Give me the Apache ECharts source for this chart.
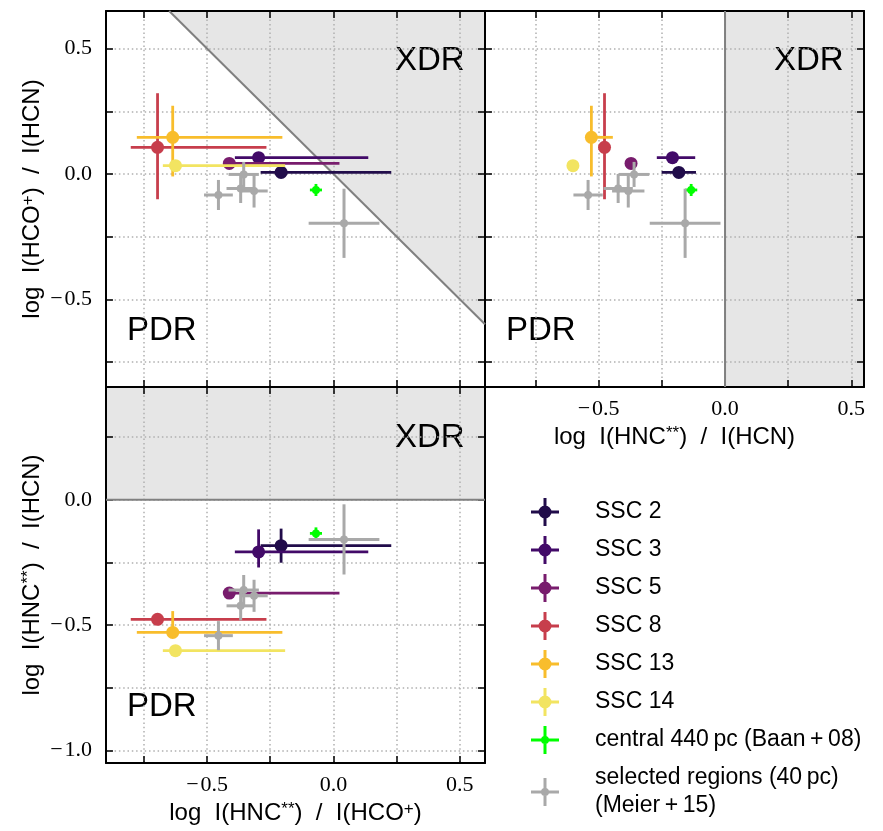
<!DOCTYPE html>
<html>
<head>
<meta charset="utf-8">
<script src="https://cdn.jsdelivr.net/npm/echarts@6/dist/echarts.min.js"></script>
<style>
  html, body { margin: 0; padding: 0; background: #fff; }
  #chart { width: 883px; height: 831px; }
</style>
</head>
<body>
<div id="chart"></div>
<script>
// ---- data: every ratio is [value, lower error, upper error] ----
const sscNames = ['SSC 2', 'SSC 3', 'SSC 5', 'SSC 8', 'SSC 13', 'SSC 14'];
const sscColors = ['#210c4a', '#420a68', '#781c6d', '#c73e4c', '#f8bd2c', '#f2e461'];
// log I(HNC**) / I(HCO+)
const sscHncHco = [
  [-0.207, 0.081, 0.436], [-0.296, 0.094, 0.434], [-0.412, 0.020, 0.436],
  [-0.696, 0.106, 0.431], [-0.636, 0.142, 0.434], [-0.625, 0.050, 0.434]
];
// log I(HCO+) / I(HCN)
const sscHcoHcn = [
  [0.006, 0.015, 0.015], [0.065, 0.015, 0.015], [0.042, 0.015, 0.015],
  [0.106, 0.207, 0.216], [0.146, 0.156, 0.126], [0.033, 0.015, 0.015]
];
// log I(HNC**) / I(HCN)
const sscHncHcn = [
  [-0.183, 0.068, 0.068], [-0.208, 0.062, 0.090], [-0.372, 0.015, 0.015],
  [-0.477, 0.015, 0.015], [-0.529, 0.015, 0.085], [-0.602, 0.015, 0.015]
];

const baanName = 'central 440\u2009pc (Baan\u2009+\u200908)';
const baanHncHco = [[-0.069, 0.024, 0.024]];
const baanHcoHcn = [[-0.064, 0.024, 0.024]];
const baanHncHcn = [[-0.134, 0.024, 0.024]];

const meierName = 'selected regions (40\u2009pc)\n(Meier\u2009+\u200915)';
const meierHncHco = [
  [-0.455, 0.057, 0.057], [-0.355, 0.060, 0.060], [-0.367, 0.056, 0.056],
  [-0.314, 0.054, 0.054], [0.042, 0.140, 0.140]
];
const meierHcoHcn = [
  [-0.084, 0.060, 0.060], [-0.002, 0.050, 0.050], [-0.058, 0.058, 0.058],
  [-0.068, 0.066, 0.066], [-0.197, 0.138, 0.138]
];
const meierHncHcn = [
  [-0.542, 0.058, 0.058], [-0.360, 0.060, 0.060], [-0.423, 0.058, 0.058],
  [-0.383, 0.064, 0.064], [-0.158, 0.140, 0.140]
];

// XDR regions (shaded) and their boundaries
const xdrPolyTL = [[-0.65, 0.65], [0.6, 0.65], [0.6, -0.6]];
const xdrLineTL = [[-0.65, 0.65], [0.6, -0.6]];
const xdrPolyTR = [[0, 0.65], [0.55, 0.65], [0.55, -0.85], [0, -0.85]];
const xdrLineTR = [[0, 0.65], [0, -0.85]];
const xdrPolyBL = [[-0.9, 0.45], [0.6, 0.45], [0.6, 0], [-0.9, 0]];
const xdrLineBL = [[-0.9, 0], [0.6, 0]];

const gridTicks = [-0.75, -0.5, -0.25, 0, 0.25, 0.5];
const gridTicksBL = [-1, -0.75, -0.5, -0.25, 0, 0.25];
const labelTicks = [-0.5, 0, 0.5];
const labelTicksBL = [-1, -0.5, 0];

const SANS = 'Liberation Sans';
const SERIF = 'Liberation Serif';

const fmt = v => (v < 0 ? '\u2212\u200a' : '') + Math.abs(v).toFixed(1);
const nameRich = {
  s: { fontSize: 17, fontFamily: SANS, verticalAlign: 'top', lineHeight: 24 },
  p: { fontSize: 17, fontFamily: SANS, verticalAlign: 'top', lineHeight: 24 }
};

const panels = [
  { left: 106, top: 11, xr: [-0.9, 0.6], yr: [-0.85, 0.65], yTicks: gridTicks,
    xLab: null, yLab: labelTicks, xName: '', yName: 'log  I(HCO{p|+})  /  I(HCN)',
    xs: [sscHncHco, baanHncHco, meierHncHco], ys: [sscHcoHcn, baanHcoHcn, meierHcoHcn],
    poly: xdrPolyTL, line: xdrLineTL },
  { left: 485, top: 11, xr: [-0.95, 0.55], yr: [-0.85, 0.65], yTicks: gridTicks,
    xLab: labelTicks, yLab: null, xName: 'log  I(HNC{s|**})  /  I(HCN)', yName: '',
    xs: [sscHncHcn, baanHncHcn, meierHncHcn], ys: [sscHcoHcn, baanHcoHcn, meierHcoHcn],
    poly: xdrPolyTR, line: xdrLineTR },
  { left: 106, top: 387, xr: [-0.9, 0.6], yr: [-1.05, 0.45], yTicks: gridTicksBL,
    xLab: labelTicks, yLab: labelTicksBL, xName: 'log  I(HNC{s|**})  /  I(HCO{p|+})',
    yName: 'log  I(HNC{s|**})  /  I(HCN)',
    xs: [sscHncHco, baanHncHco, meierHncHco], ys: [sscHncHcn, baanHncHcn, meierHncHcn],
    poly: xdrPolyBL, line: xdrLineBL }
];

const grids = [], xAxes = [], yAxes = [], series = [];

function axis(pos, range, ticks, labels, name, gi, main) {
  return {
    type: 'value', gridIndex: gi, position: pos, min: range[0], max: range[1],
    axisLine: { show: true, onZero: false, lineStyle: { color: '#000', width: 2 } },
    axisTick: { show: true, inside: true, length: 7, customValues: ticks,
      lineStyle: { color: '#000', width: 1.5 } },
    axisLabel: labels ? {
      show: true, customValues: labels, formatter: fmt, fontSize: 22, fontFamily: SERIF,
      color: '#000', margin: (pos === 'bottom') ? 11 : 14
    } : { show: false },
    splitLine: { show: main, lineStyle: { color: '#b0b0b0', width: 1.5, type: [1.5, 2.8] } },
    name: name || '', nameLocation: 'middle',
    nameGap: (pos === 'bottom') ? 38 : 62,
    nameTextStyle: { fontSize: 24, fontFamily: SANS, color: '#000', rich: nameRich }
  };
}

function errRender(r, lw) {
  return function (params, api) {
    const x = api.value(0), y = api.value(1);
    const c = api.coord([x, y]);
    const xl = api.coord([x - api.value(2), y]), xh = api.coord([x + api.value(3), y]);
    const yl = api.coord([x, y - api.value(4)]), yh = api.coord([x, y + api.value(5)]);
    const color = api.visual('color');
    return {
      type: 'group',
      children: [
        { type: 'line', shape: { x1: xl[0], y1: c[1], x2: xh[0], y2: c[1] },
          style: { stroke: color, lineWidth: lw } },
        { type: 'line', shape: { x1: c[0], y1: yl[1], x2: c[0], y2: yh[1] },
          style: { stroke: color, lineWidth: lw } },
        { type: 'circle', shape: { cx: c[0], cy: c[1], r: r }, style: { fill: color } }
      ]
    };
  };
}

function pts(xs, ys) {
  return xs.map((xv, i) => [xv[0], ys[i][0], xv[1], xv[2], ys[i][1], ys[i][2]]);
}

panels.forEach((p, gi) => {
  grids.push({ left: p.left, top: p.top, width: 379, height: 376 });
  xAxes.push(axis('bottom', p.xr, gridTicks, p.xLab, p.xName, gi, true));
  xAxes.push(axis('top', p.xr, gridTicks, null, '', gi, false));
  yAxes.push(axis('left', p.yr, p.yTicks, p.yLab, p.yName, gi, true));
  yAxes.push(axis('right', p.yr, p.yTicks, null, '', gi, false));
  const ax = { xAxisIndex: gi * 2, yAxisIndex: gi * 2 };

  series.push(Object.assign({
    type: 'custom', z: -1, silent: true, data: [[0, 0]],
    renderItem: (prm, api) => ({
      type: 'polygon', shape: { points: p.poly.map(pt => api.coord(pt)) },
      style: { fill: '#e6e6e6' }
    })
  }, ax));
  series.push(Object.assign({
    type: 'custom', z: 1, silent: true, data: [[0, 0]],
    renderItem: (prm, api) => {
      const a = api.coord(p.line[0]), b = api.coord(p.line[1]);
      return { type: 'line', shape: { x1: a[0], y1: a[1], x2: b[0], y2: b[1] },
        style: { stroke: '#808080', lineWidth: 2 } };
    }
  }, ax));

  sscNames.forEach((n, i) => {
    series.push(Object.assign({
      type: 'custom', name: n, z: 2, clip: true,
      itemStyle: { color: sscColors[i] },
      encode: { x: 0, y: 1 },
      data: [[p.xs[0][i][0], p.ys[0][i][0], p.xs[0][i][1], p.xs[0][i][2], p.ys[0][i][1], p.ys[0][i][2]]],
      renderItem: errRender(6.5, 2.8)
    }, ax));
  });
  series.push(Object.assign({
    type: 'custom', name: baanName, z: 3, clip: true, itemStyle: { color: '#00ff00' },
    encode: { x: 0, y: 1 }, data: pts(p.xs[1], p.ys[1]), renderItem: errRender(4, 2.8)
  }, ax));
  series.push(Object.assign({
    type: 'custom', name: meierName, z: 3, clip: true, itemStyle: { color: '#a9a9a9' },
    encode: { x: 0, y: 1 }, data: pts(p.xs[2], p.ys[2]), renderItem: errRender(4, 3)
  }, ax));
});

const bigIcon = 'path://M0,12.5H28V15.5H0Z M12.5,0H15.5V28H12.5Z M20.5,14A6.5,6.5,0,1,1,7.5,14A6.5,6.5,0,1,1,20.5,14Z';
const smallIcon = 'path://M0,12.5H28V15.5H0Z M12.5,0H15.5V28H12.5Z M18,14A4,4,0,1,1,10,14A4,4,0,1,1,18,14Z';

function regionText(txt, x, y) {
  return { type: 'text', left: x, top: y, silent: true,
    style: { text: txt, font: '33px "' + SANS + '"', fill: '#000' } };
}

const chart = echarts.init(document.getElementById('chart'), null, { renderer: 'canvas' });
chart.setOption({
  animation: false,
  backgroundColor: '#fff',
  grid: grids,
  xAxis: xAxes,
  yAxis: yAxes,
  legend: {
    orient: 'vertical', left: 531, top: 498, height: 420, padding: 0,
    itemWidth: 28, itemHeight: 28, itemGap: 10,
    selectedMode: false,
    textStyle: { fontSize: 23, fontFamily: SANS, color: '#000', padding: [0, 0, 0, 31], lineHeight: 28 },
    data: sscNames.map(n => ({ name: n, icon: bigIcon }))
      .concat([{ name: baanName, icon: smallIcon }, { name: meierName, icon: smallIcon }])
  },
  graphic: [
    regionText('XDR', 395, 44), regionText('XDR', 774, 44), regionText('XDR', 395, 421),
    regionText('PDR', 127, 314), regionText('PDR', 506, 314), regionText('PDR', 127, 690)
  ],
  series: series
});
</script>
</body>
</html>
